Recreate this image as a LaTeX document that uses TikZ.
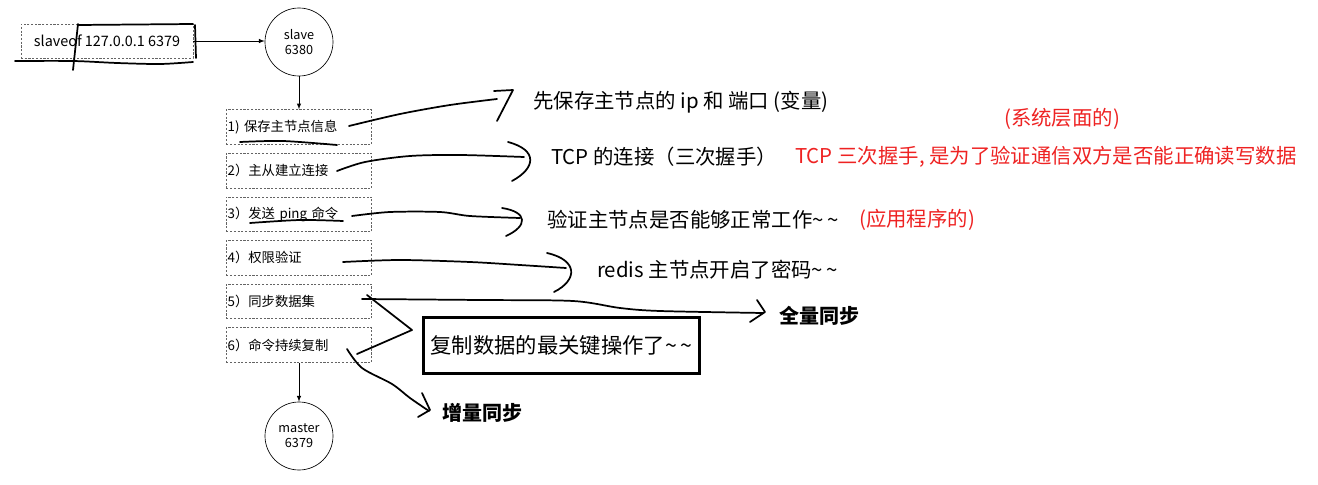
\documentclass[tikz,border=0pt]{standalone}
\usepackage{fontspec}
\setmainfont{Noto Sans CJK SC}
\usetikzlibrary{arrows, positioning, calc}

\definecolor{notered}{RGB}{238,34,34}
\definecolor{dashgray}{RGB}{100,100,100}

\tikzset{
	dashbox/.style={draw=dashgray, dash pattern=on 1.6pt off 1.2pt, line width=0.5pt},
	stepbox/.style={dashbox, text width=107pt, minimum height=26pt, inner xsep=1pt, inner ysep=0pt, align=left, font=\fontsize{10}{12}\selectfont},
	port/.style={circle, draw, line width=0.5pt, minimum size=51pt, inner sep=0pt, align=center, font=\fontsize{9.5}{11}\selectfont},
	flow/.style={-latex, line width=0.5pt},
	hand/.style={line width=1.3pt, line cap=round, line join=round},
	remark/.style={anchor=west, inner sep=0pt, font=\fontsize{15.3}{18}\selectfont},
	sync/.style={anchor=west, inner sep=0pt, font=\fontsize{15}{18}\selectfont\bfseries},
}

\begin{document}
\begin{tikzpicture}[x=0.75pt, y=-0.75pt]
	\useasboundingbox (0,0) rectangle (1318,485);

	% command and slave
	\node[dashbox, minimum width=129pt, minimum height=25.5pt, inner sep=0pt, font=\fontsize{10.8}{12}\selectfont] (cmd) at (107,41) {slaveof 127.0.0.1 6379};
	\node[port] (slave) at (299,42) {slave\\6380};
	\draw[flow] (cmd.east) -- (cmd.east -| slave.west);

	% steps
	\node[stepbox] (s1) at (299,127) {1) 保存主节点信息};
	\node[stepbox, below=6.2pt of s1] (s2) {2）主从建立连接};
	\node[stepbox, below=6.2pt of s2] (s3) {3）发送 ping 命令};
	\node[stepbox, below=6.2pt of s3] (s4) {4）权限验证};
	\node[stepbox, below=6.2pt of s4] (s5) {5）同步数据集};
	\node[stepbox, below=6.2pt of s5] (s6) {6）命令持续复制};
	\node[port] (master) at (299,436) {master\\6379};
	\draw[flow] (slave) -- (s1);
	\draw[flow] (s6) -- (master);

	% notes
	\node[remark] (saveip) at (533,102) {先保存主节点的 ip 和 端口 (变量)};
	\node[remark, text=notered] (syslevel) at (1004,119) {(系统层面的)};
	\node[remark] (tcpconn) at (551,157) {TCP 的连接（三次握手）};
	\node[remark, text=notered] (tcpnote) at (795,157) {TCP 三次握手, 是为了验证通信双方是否能正确读写数据};
	\node[remark] (pingcheck) at (547,220) {验证主节点是否能够正常工作\textasciitilde\,\textasciitilde};
	\node[remark, text=notered] (applevel) at (859,220) {(应用程序的)};
	\node[remark] (password) at (597,270) {redis 主节点开启了密码\textasciitilde\,\textasciitilde};
	\node[sync] (fullsync) at (779,316) {全量同步};
	\node[sync] (incrsync) at (442,413) {增量同步};
	\node[draw, line width=2.2pt, minimum width=207pt, minimum height=42pt, inner sep=0pt, font=\fontsize{16}{19}\selectfont] (keyop) at (561.5,345.5) {复制数据的最关键操作了\textasciitilde\,\textasciitilde};

	% pen strokes
	\draw[hand] plot[smooth] coordinates {(15,61) (73,61) (117,63) (160,64) (193,62)};
	\draw[hand] (78,24) -- (73,70);
	\draw[hand] (78,25) -- (193,24);
	\draw[hand] (195,25) -- (196,58);

	\draw[hand] plot[smooth] coordinates {(240,142) (283,141) (337,145)};
	\draw[hand] plot[smooth] coordinates {(349,126) (400,114) (450,105) (497,99)};
	\draw[hand] (494,91) -- (513,90) -- (497,121);

	\draw[hand] plot[smooth] coordinates {(337,171) (365,162) (410,156) (460,155) (524,157)};
	\draw[hand] (508,142) .. controls (538,150) and (536,168) .. (512,181);

	\draw[hand] plot[smooth] coordinates {(250,223) (300,220) (343,221)};
	\draw[hand] plot[smooth] coordinates {(352,216) (390,212) (440,212) (470,216) (520,218)};
	\draw[hand] (502,208) .. controls (528,212) and (528,226) .. (506,236);

	\draw[hand] plot[smooth] coordinates {(343,262) (400,260) (470,262) (520,265) (566,268)};
	\draw[hand] (547,253) .. controls (578,260) and (578,280) .. (554,292);

	\draw[hand] plot[smooth] coordinates {(362,299) (480,300) (573,301) (620,308) (660,311) (763,313)};
	\draw[hand] (757,300) -- (765,312) -- (750,322);
	\draw[hand] (367,295) -- (412,330) -- (357,354);
	\draw[hand] plot[smooth] coordinates {(347,349) (362,368) (392,384) (410,398) (429,411)};
	\draw[hand] (422,393) -- (430,410) -- (418,417);
\end{tikzpicture}
\end{document}
